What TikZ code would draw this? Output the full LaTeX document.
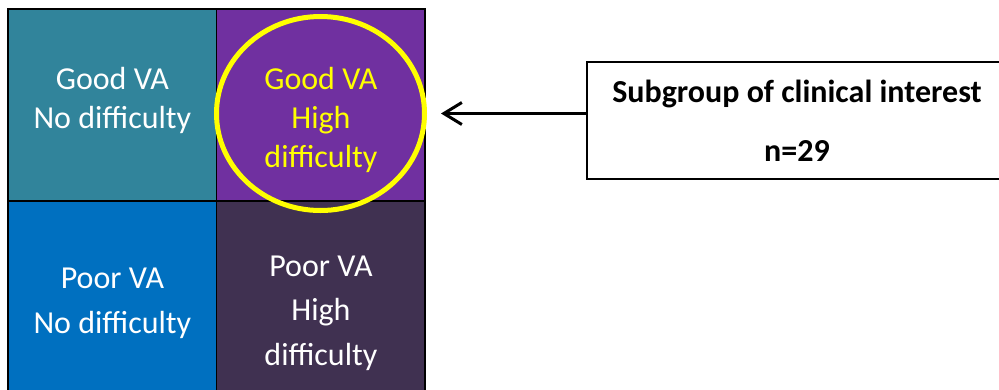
\documentclass[tikz,border=0pt]{standalone}
\usepackage{fontspec}
\setmainfont{Carlito}
\usetikzlibrary{arrows.meta,shapes.geometric}
\definecolor{vateal}{HTML}{31849B}
\definecolor{vapurple}{HTML}{7030A0}
\definecolor{vablue}{HTML}{0070C0}
\definecolor{vadark}{HTML}{403151}
\definecolor{vayellow}{HTML}{FFFF00}
\begin{document}
\begin{tikzpicture}[
  x=1pt, y=-1pt,
  cell/.style={draw=black,line width=1.5pt,minimum width=208.5pt,inner sep=0pt},
  celltext/.style={anchor=base,align=center,text=white,inner sep=0pt},
  tight/.style={font=\fontsize{32}{39}\selectfont},
  loose/.style={font=\fontsize{32}{44.5}\selectfont},
  ring/.style={ellipse,draw=vayellow,line width=5pt,minimum width=208pt,
    minimum height=194pt,inner sep=0pt},
  infobox/.style={draw=black,line width=2.5pt,minimum width=420pt,
    minimum height=117pt,align=center,
    font=\bfseries\fontsize{32}{59}\selectfont}
]
\useasboundingbox (0,0) rectangle (999,389);
\node[cell,fill=vateal,minimum height=192pt] (gn) at (112.4,105) {};
\node[cell,fill=vapurple,minimum height=192pt] (gh) at (320.9,105) {};
\node[cell,fill=vablue,minimum height=216pt] (pn) at (112.4,309) {};
\node[cell,fill=vadark,minimum height=216pt] (ph) at (320.9,309) {};
\node[celltext,tight] (gnt) at (112.4,128) {Good VA\\No difficulty};
\node[celltext,tight,text=vayellow] (ght) at (320.9,167) {Good VA\\High\\difficulty};
\node[celltext,loose] (pnt) at (112.4,333) {Poor VA\\No difficulty};
\node[celltext,loose] (pht) at (320.9,365) {Poor VA\\High\\difficulty};
\node[ring] (hl) at (320.5,113.5) {};
\node[infobox] (sub) at (797,120.5) {Subgroup of clinical interest\\n=29};
\draw[line width=3pt,-{Straight Barb[length=18pt,width=22pt]},shorten >=14pt]
  (sub.west |- hl.east) -- (hl.east);
\end{tikzpicture}
\end{document}
